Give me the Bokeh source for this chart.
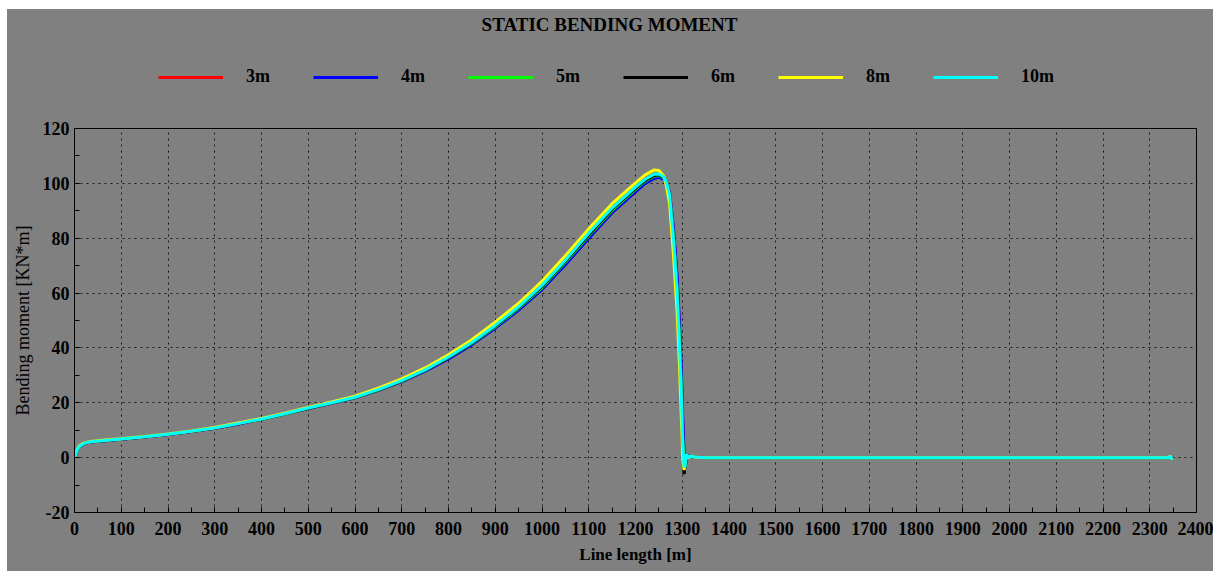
from bokeh.plotting import figure
from bokeh.layouts import column
from bokeh.models import (Legend, LegendItem, SingleIntervalTicker, Range1d, Label,
                          PrintfTickFormatter)
from bokeh.embed import file_html
from bokeh.resources import INLINE

# ---- data ----
length_m = [0, 5, 10, 20, 35, 60, 100, 150, 200, 250, 300, 350, 400, 450, 500, 550, 600, 650,
            700, 750, 800, 850, 900, 950, 1000, 1050, 1100, 1150, 1200, 1220, 1240, 1250, 1260,
            1266, 1273, 1282, 1289, 1294, 1298, 1301, 1304, 1306, 1309, 1313, 1318, 1325, 1335,
            1350, 2340, 2344, 2347, 2349]

m_3m = [0, 2.5, 3.9, 5.1, 5.7, 6.1, 6.7, 7.5, 8.4, 9.5, 10.7, 12.3, 14.0, 15.9, 17.9, 19.8, 21.8,
        24.5, 27.7, 31.6, 36.1, 41.3, 47.4, 54.0, 61.5, 70.5, 80.2, 89.5, 97.1, 100.1, 102.0,
        102.4, 101.7, 100.1, 96.4, 81.0, 64.5, 47.0, 30.0, 12.0, -1.0, -3.5, -0.5, 0.8, 0.3,
        0.2, 0.1, 0.0, 0.0, 0.7, -0.5, 0.0]
m_4m = [0, 2.5, 3.9, 5.1, 5.7, 6.1, 6.7, 7.5, 8.4, 9.5, 10.7, 12.3, 14.0, 15.9, 17.9, 19.8, 21.8,
        24.5, 27.7, 31.5, 36.0, 41.2, 47.2, 53.8, 61.3, 70.3, 80.0, 89.3, 96.9, 99.9, 101.8,
        102.2, 101.6, 100.0, 96.6, 82.0, 66.0, 49.0, 32.0, 15.0, 1.0, -3.5, -1.0, 0.8, 0.3,
        0.2, 0.1, 0.0, 0.0, 0.4, -0.3, 0.0]
m_5m = [0, 2.6, 4.0, 5.2, 5.8, 6.2, 6.8, 7.6, 8.5, 9.6, 10.8, 12.4, 14.0, 15.9, 18.0, 19.9, 21.9,
        24.6, 27.9, 31.8, 36.4, 41.6, 47.7, 54.4, 62.0, 71.2, 80.9, 90.1, 97.8, 100.7, 102.6,
        102.9, 102.0, 100.2, 96.0, 79.0, 61.5, 43.5, 25.5, 7.0, -3.0, -3.5, 1.0, -0.1, 0.6,
        0.2, 0.1, 0.0, 0.0, 0.5, -0.4, 0.0]
m_6m = [0, 2.6, 4.0, 5.2, 5.8, 6.2, 6.8, 7.6, 8.5, 9.6, 10.8, 12.4, 14.1, 16.0, 18.0, 20.0, 22.0,
        24.7, 28.0, 31.9, 36.5, 41.8, 48.0, 54.7, 62.4, 71.6, 81.3, 90.6, 98.2, 101.0, 102.9,
        103.1, 102.2, 100.3, 95.5, 77.0, 58.0, 39.0, 20.0, 0.0, -6.0, -2.0, 1.5, -0.2, 0.6,
        0.2, 0.1, 0.0, 0.0, 0.5, -0.4, 0.0]
m_8m = [0, 2.8, 4.2, 5.3, 5.9, 6.3, 6.9, 7.7, 8.6, 9.7, 11.0, 12.6, 14.3, 16.2, 18.3, 20.3, 22.4,
        25.3, 28.7, 32.7, 37.5, 43.0, 49.4, 56.3, 64.3, 73.6, 83.4, 92.6, 100.2, 103.0, 104.9,
        104.7, 102.8, 99.2, 92.5, 72.0, 53.0, 34.0, 15.0, -1.0, -4.5, -1.5, 1.2, -0.3, 0.5,
        0.2, 0.1, 0.0, 0.0, 0.6, -0.5, 0.0]
m_10m = [0, 2.6, 4.0, 5.2, 5.8, 6.2, 6.8, 7.6, 8.5, 9.6, 10.8, 12.4, 14.1, 16.0, 18.1, 20.0, 22.0,
         24.8, 28.1, 32.0, 36.7, 42.0, 48.2, 55.0, 62.8, 72.0, 81.8, 91.0, 98.6, 101.4, 103.3,
         103.4, 102.4, 100.4, 95.8, 78.0, 60.0, 41.5, 23.0, 5.0, -3.5, -3.0, 1.4, -0.2, 0.7,
         0.2, 0.1, 0.0, 0.0, 0.5, -0.4, 0.0]

series_names = ["3m", "4m", "5m", "6m", "8m", "10m"]
series_values = [m_3m, m_4m, m_5m, m_6m, m_8m, m_10m]
series_colors = ["#ff0000", "#0000ff", "#00ff00", "#000000", "#ffff00", "#00ffff"]
title_text = "STATIC BENDING MOMENT"

SERIF = "Liberation Serif"
BG = "#808080"

# ---- header: title + legend (legend glyphs reuse the series, kept out of view) ----
head = figure(width=1206, height=100, output_backend="svg", toolbar_location=None,
              x_range=Range1d(0, 1), y_range=Range1d(5000, 5001),
              background_fill_color=BG, border_fill_color=BG,
              min_border=0, outline_line_color=None)
head.axis.visible = False
head.grid.visible = False

items = []
for name, vals, col in zip(series_names, series_values, series_colors):
    r = head.line(length_m, vals, line_color=col, line_width=3)
    items.append(LegendItem(label=name, renderers=[r]))

legend = Legend(items=items, orientation="horizontal", location=(84, 22),
                glyph_width=65, glyph_height=20, label_standoff=23, label_width=45,
                spacing=22, padding=0, margin=0,
                label_text_font=SERIF, label_text_font_style="bold",
                label_text_font_size="18px", label_text_color="black",
                background_fill_alpha=0, border_line_alpha=0)
head.add_layout(legend)

head.add_layout(Label(x=535, y=85, x_units="screen", y_units="screen", text=title_text,
                      text_align="center", text_baseline="middle", text_font=SERIF,
                      text_font_style="bold", text_font_size="19px", text_color="black"))

# ---- main chart ----
p = figure(width=1206, height=462, output_backend="svg", toolbar_location=None,
           x_range=Range1d(0, 2400), y_range=Range1d(-20, 120),
           background_fill_color=BG, border_fill_color=BG,
           min_border_left=67, min_border_right=17, min_border_bottom=59, min_border_top=19)

for name, vals, col in zip(series_names, series_values, series_colors):
    p.line(length_m, vals, line_color=col, line_width=3)

p.outline_line_color = "black"
p.outline_line_width = 1

for ax in (p.xaxis[0], p.yaxis[0]):
    ax.axis_line_color = "black"
    ax.major_tick_line_color = "black"
    ax.minor_tick_line_color = "black"
    ax.major_tick_in = 5
    ax.major_tick_out = 0
    ax.minor_tick_in = 5
    ax.minor_tick_out = 0
    ax.major_label_text_font = SERIF
    ax.major_label_text_font_style = "bold"
    ax.major_label_text_font_size = "18px"
    ax.major_label_text_color = "black"
    ax.axis_label_text_font = SERIF
    ax.axis_label_text_color = "black"

p.xaxis[0].ticker = SingleIntervalTicker(interval=100, num_minor_ticks=2)
p.yaxis[0].ticker = SingleIntervalTicker(interval=20, num_minor_ticks=2)
p.yaxis[0].formatter = PrintfTickFormatter(format="%d")
p.xaxis.axis_label = "Line length [m]"
p.xaxis.axis_label_text_font_style = "bold"
p.xaxis.axis_label_text_font_size = "17px"
p.yaxis.axis_label = "Bending moment [KN*m]"
p.yaxis.axis_label_text_font_style = "normal"
p.yaxis.axis_label_text_font_size = "18px"
p.xaxis.major_label_standoff = 9
p.yaxis.major_label_standoff = 5
p.xaxis.axis_label_standoff = 7
p.yaxis.axis_label_standoff = 7

for g in (p.xgrid[0], p.ygrid[0]):
    g.grid_line_color = "#1a1a1a"
    g.grid_line_dash = "2 4"
    g.grid_line_width = 1

layout = column(head, p, spacing=0, margin=(9, 0, 0, 7),
                styles={"background-color": BG})
open("out.html", "w").write(file_html(layout, INLINE))
